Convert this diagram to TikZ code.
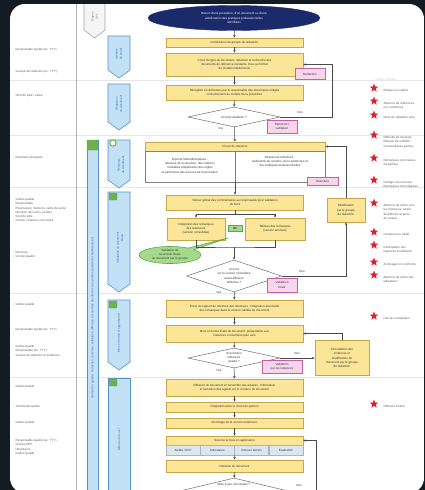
\documentclass[tikz,border=0pt]{standalone}
\usepackage{fontspec}
\setmainfont{Liberation Sans}
\usetikzlibrary{shapes.geometric,shapes.callouts,arrows.meta}
\definecolor{bgdark}{HTML}{131B23}
\definecolor{yfill}{HTML}{FBE596}
\definecolor{ydraw}{HTML}{C9A54A}
\definecolor{pfill}{HTML}{F7D6EC}
\definecolor{pdraw}{HTML}{C25FA5}
\definecolor{bfill}{HTML}{C2E1F7}
\definecolor{bdraw}{HTML}{5B8FC9}
\definecolor{btext}{HTML}{3A6FB5}
\definecolor{gfill}{HTML}{A6D98C}
\definecolor{gdraw}{HTML}{5FA845}
\definecolor{gicon}{HTML}{6DB24E}
\definecolor{navy}{HTML}{1B2A6B}
\definecolor{linec}{HTML}{4A4A4A}
\definecolor{sepc}{HTML}{E4E6E8}
\definecolor{txt}{HTML}{333333}
\definecolor{redstar}{HTML}{E0202A}
\definecolor{subfill}{HTML}{DCE6EE}
\definecolor{grayline}{HTML}{B0B4B8}
\tikzset{
  tinyf/.style={font=\fontsize{3}{4.2}\selectfont},
  ybox/.style={draw=ydraw, fill=yfill, line width=0.8pt, inner sep=0pt, align=center, tinyf, text=txt},
  pbox/.style={draw=pdraw, fill=pfill, line width=0.6pt, inner sep=0pt, align=center, tinyf, text=txt},
  sbox/.style={draw=grayline, fill=subfill, line width=0.5pt, inner sep=0pt, align=center, tinyf, text=txt},
  dec/.style={diamond, draw=linec!80, fill=white, line width=0.5pt, inner sep=0pt, align=center, tinyf, text=txt},
  flow/.style={draw=linec, line width=0.5pt, -{Stealth[length=2.6pt,width=2.4pt]}},
  plainline/.style={draw=linec, line width=0.5pt},
  chev/.style={draw=bdraw, fill=bfill, line width=0.6pt},
  chevtxt/.style={tinyf, text=btext, rotate=90, align=center},
  sidetxt/.style={tinyf, text=txt!80, anchor=west, align=left},
  startxt/.style={tinyf, text=txt!80, anchor=north west, align=left},
  starmark/.style={star, star points=5, star point ratio=2.4, fill=redstar, draw=none, minimum size=9pt, inner sep=0pt},
  icon/.style={fill=gicon, draw=gdraw, rounded corners=1pt, line width=0.4pt},
  lbl/.style={tinyf, text=txt}
}
\begin{document}
\begin{tikzpicture}[x=1pt,y=-1pt]
\fill[bgdark] (0,0) rectangle (425,490);
\useasboundingbox (0,0) rectangle (425,490);
\begin{scope}
\clip[rounded corners=15pt] (10,4) rectangle (424,493);
\fill[white] (10,4) rectangle (424,493);

% separators
\foreach \yy in {80,135,187,293,377} \draw[sepc, line width=0.6pt] (10,\yy) -- (424,\yy);
\draw[grayline, line width=0.6pt] (76,4) -- (76,493);

% left column texts
\node[sidetxt] (t1) at (12,50) {Responsable qualité (ex. YYY)};
\node[sidetxt] (t2) at (12,72) {Groupe de rédaction (ex. YYY)};
\node[sidetxt] (t3) at (12,96) {Chef de pôle / cadre};
\node[sidetxt] (t4) at (12,158) {Relecteurs désignés};
\node[sidetxt, anchor=north west] (t5) at (12,195) {Cellule qualité\\Responsable\\Pharmacien, médecin, cadre de santé\\Direction des soins, juristes\\Chef de pôle\\Comité / instance concernée};
\node[sidetxt, anchor=north west] (t6) at (12,248) {Directeur\\Comité qualité};
\node[sidetxt] (t7) at (12,305) {Cellule qualité};
\node[sidetxt] (t8) at (12,330) {Responsable qualité (ex. YYY)};
\node[sidetxt, anchor=north west] (t9) at (12,342) {Cellule qualité\\Responsable (ex. YYY)\\Groupe de rédaction et instances};
\node[sidetxt] (t10) at (12,387) {Cellule qualité};
\node[sidetxt] (t11) at (12,407) {Secrétariat qualité};
\node[sidetxt] (t12) at (12,423) {Cellule qualité};
\node[sidetxt, anchor=north west] (t13) at (12,436) {Responsable qualité (ex. YYY)\\Groupe EPP\\Utilisateurs\\Cellule qualité};

% top grey chevron
\draw[fill=gray!8, draw=gray!70, line width=0.6pt] (84,2) -- (105,2) -- (105,30) -- (94.5,38) -- (84,30) -- cycle;
\node[chevtxt, text=gray] (g0) at (94.5,17) {Étapes\\clés};

% blue chevrons
\draw[chev] (108,36) -- (130,36) -- (130,70) -- (119,78) -- (108,70) -- cycle;
\node[chevtxt] (c1) at (119,54) {Initiation\\du projet};
\draw[chev] (108,84) -- (130,84) -- (130,122) -- (119,130) -- (108,122) -- cycle;
\node[chevtxt] (c2) at (119,104) {Rédaction\\du document};
\draw[chev] (108,140) -- (130,140) -- (130,180) -- (119,188) -- (108,180) -- cycle;
\node[chevtxt] (c3) at (121,165) {Relecture\\du document};
\draw[chev] (108,192) -- (130,192) -- (130,284) -- (119,292) -- (108,284) -- cycle;
\node[chevtxt] (c4) at (120,248) {Validation du document\\\hspace{20pt}finale};
\draw[chev] (108,300) -- (130,300) -- (130,362) -- (119,370) -- (108,362) -- cycle;
\node[chevtxt] (c5) at (119,333) {Mise en forme et approbation};
\draw[chev] (108,378) rectangle (130,500);
\node[chevtxt] (c6) at (119,440) {Diffusion et suivi};
% long bar
\draw[chev] (87,140) rectangle (98,500);
\node[chevtxt] (c7) at (92.5,318) {Démarche qualité : rédaction, relecture, validation, diffusion et suivi des documents du système qualité de l'établissement};
% icons
\draw[icon] (87,140) rectangle (98,150);
\draw[fill=white, draw=gicon, line width=1pt] (113,143) circle (3.2pt);
\draw[icon] (109,193) rectangle (117,200);
\draw[icon] (109,301) rectangle (117,308);
\draw[icon] (109,379) rectangle (117,386);

% ---- main flow ----
\node[ellipse, fill=navy, draw=navy, minimum width=172pt, minimum height=25pt, inner sep=0pt, align=center, tinyf, text=white] (e0) at (234,18) {Besoin d'une procédure, d'un document ou d'une\\amélioration des pratiques professionnelles\\identifiées};
\node[ybox, minimum width=137pt, minimum height=9pt] (b1) at (234.5,42.5) {Constitution du groupe de rédaction};
\node[ybox, minimum width=137pt, minimum height=23pt] (b2) at (234.5,64.5) {Choix du type de document, rédaction et recherche des\\documents de référence existants, mise au format\\du modèle institutionnel};
\node[pbox, minimum width=30pt, minimum height=11pt] (p1) at (310,74) {Rédaction};
\node[ybox, minimum width=137pt, minimum height=15pt] (b3) at (234.5,92.5) {Réception et vérification par le responsable des documents rédigés\\conformément au modèle de la procédure};
\node[dec, aspect=4.6, minimum width=92pt, minimum height=20pt] (d1) at (234,117) {Accord validation ?};
\node[pbox, minimum width=30pt, minimum height=13pt] (p2) at (282,126.5) {Relecture /\\validation};
\node[lbl] (n1) at (300,112.5) {Non};
\node[lbl] (o1) at (221,128) {Oui};

% relecture block
\node[ybox, minimum width=180pt, minimum height=9pt] (s3h) at (235,146.5) {Circuit de relecture};
\node[draw=linec!70, fill=white, line width=0.6pt, minimum width=180pt, minimum height=31pt, inner sep=0pt] (s3b) at (235,166.5) {};
\draw[linec!70, line width=0.5pt] (s3b.north) -- (s3b.south);
\node[tinyf, text=txt, align=center] (s3l) at (190,166) {Experts méthodologiques :\\relecture de la structure, des critères /\\modalités d'application des règles\\et pertinence des sources de la procédure};
\node[tinyf, text=txt, align=center] (s3r) at (280,162) {Relecteurs extérieurs :\\vérification du contenu, de la pertinence et\\des pratiques professionnelles};
\node[pbox, minimum width=31pt, minimum height=8pt] (s3p) at (322.5,181) {Relecture};
\node[ybox, minimum width=38pt, minimum height=24pt] (mod) at (346,210) {Modification\\par le groupe\\de rédaction};

\node[ybox, minimum width=137pt, minimum height=15pt] (b4) at (235,202.5) {Retour global des commentaires au responsable pour validation\\du fond};
\node[ybox, minimum width=58pt, minimum height=22pt] (b5l) at (196,229) {Intégration des remarques\\des relecteurs\\(version consolidée)};
\node[ybox, minimum width=60pt, minimum height=22pt] (b5r) at (275,229) {Tableau des remarques\\(version annotée)};
\node[fill=gfill, draw=gdraw, line width=0.4pt, minimum width=14pt, minimum height=6pt, inner sep=0pt, tinyf] (gk) at (235,228) {Ok};
\node[ellipse callout, callout absolute pointer={(228,238)}, fill=gfill, draw=gdraw, line width=0.6pt, minimum width=62pt, minimum height=17pt, inner sep=0pt, align=center, tinyf, text=txt] (gc) at (170,255) {Validation de\\la version finale\\du document par le groupe};

\node[dec, aspect=3, minimum width=95pt, minimum height=32pt] (d2) at (234,276) {Accord\\sur la version consolidée\\avant diffusion\\définitive ?};
\node[pbox, minimum width=30pt, minimum height=14pt] (p4) at (282,285) {Validation\\finale};
\node[lbl] (n2) at (302,271.5) {Non};
\node[lbl] (o2) at (219,292) {Oui};

\node[ybox, minimum width=137pt, minimum height=17pt] (b6) at (234.5,308.5) {Envoi du rapport de relecture aux relecteurs ; intégration éventuelle\\des remarques dans la version validée du document};
\node[ybox, minimum width=137pt, minimum height=17pt] (b7) at (234.5,333.5) {Mise en forme finale du document, présentation aux\\instances concernées pour avis};
\node[dec, aspect=4, minimum width=92pt, minimum height=20pt] (d3) at (234,358) {Accord des\\instances\\qualité ?};
\node[pbox, minimum width=40pt, minimum height=13pt] (p3) at (282,366.5) {Validation\\par les instances};
\node[lbl] (n3) at (297,353.5) {Non};
\node[lbl] (o3) at (219,370) {Oui};
\node[ybox, minimum width=54pt, minimum height=35pt] (r3) at (342,358) {Consultation des\\instances et\\modification du\\document par le groupe\\de rédaction};

\node[ybox, minimum width=137pt, minimum height=17pt] (b8) at (234.5,387.5) {Diffusion du document à l'ensemble des équipes ; information\\et formation des agents sur le contenu du document};
\node[ybox, minimum width=137pt, minimum height=10pt] (b9) at (234.5,407) {Intégration dans le circuit de gestion};
\node[ybox, minimum width=137pt, minimum height=10pt] (b10) at (234.5,423) {Archivage de la version antérieure};
\node[ybox, minimum width=137pt, minimum height=9pt] (b11) at (234.5,440.5) {Suivi de la mise en application};
\node[sbox, minimum width=34.25pt, minimum height=10pt] (s1) at (183.1,450) {Audits / EPP};
\node[sbox, minimum width=34.25pt, minimum height=10pt] (s2) at (217.4,450) {Indicateurs};
\node[sbox, minimum width=34.25pt, minimum height=10pt] (s3) at (251.6,450) {Retours terrain};
\node[sbox, minimum width=34.25pt, minimum height=10pt] (s4) at (285.9,450) {Évaluation};
\node[ybox, minimum width=137pt, minimum height=12pt] (b12) at (234.5,466) {Révision du document};
\node[dec, aspect=4, minimum width=100pt, minimum height=24pt] (d4) at (234,490) {};
\node[lbl, align=center] (d4t) at (234,484.5) {Mise à jour nécessaire ?};
\node[lbl] (n4) at (299,485) {Non};

% connectors
\draw[flow] (e0) -- (b1);
\draw[flow] (b1) -- (b2);
\draw[flow] (b2) -- (b3);
\draw[flow] (b3) -- (d1);
\draw[flow] (d1) -- (s3h);
\draw[flow] (d1.east) -- ++(52,0) |- (b2.east);
\draw[flow] (s3b) -- (b4);
\draw[plainline] (b4.south) -- ++(0,4) coordinate (sp);
\draw[flow] (sp) -| (b5l.north);
\draw[flow] (sp) -| (b5r.north);
\coordinate (mg) at (234,247);
\draw[plainline] (b5l.south) |- (mg) -| (b5r.south);
\draw[flow] (mg) -- (d2.north);
\draw[flow] (d2.east) -| (mod.south);
\draw[flow] (mod.north) |- (s3h.east);
\draw[flow] (d2) -- (b6);
\draw[flow] (b6) -- (b7);
\draw[flow] (b7) -- (d3);
\draw[flow] (d3.east) -- (r3.west);
\draw[flow] (r3.north) |- (b7.east);
\draw[flow] (d3) -- (b8);
\draw[flow] (b8) -- (b9);
\draw[flow] (b9) -- (b10);
\draw[flow] (b10) -- (b11);
\draw[flow] (s2.south east) -- (b12.north);
\draw[flow] (b12) -- (d4);
\draw[flow] (d4.east) -- ++(32,0) |- (b11.east);

% star column
\node[tinyf, text=gray!40, anchor=west] (sh) at (372,80) {Points critiques};
\foreach \yy/\tt in {
  88/{Risque non repéré},
  101/{Absence de références\\non conformes},
  115/{Délai de validation long},
  135/{Difficulté de relecture\\Manque de visibilité\\Commentaires perdus},
  158/{Remarques non tracées\\d'expertise},
  180/{Partage non sécurisé\\Remarques non intégrées},
  203/{Absence de retour vers\\les relecteurs, retard\\de diffusion et perte\\de version},
  232/{Contenu non validé},
  245/{Participation des\\instances insuffisante},
  262/{Archivage non conforme},
  275/{Absence de retour des\\utilisateurs},
  316/{Pas de consultation},
  404/{Diffusion limitée}}
{
  \node[starmark] at (374,\yy) {};
  \node[startxt] at (380,\yy-2) {\tt};
}
\end{scope}
\end{tikzpicture}
\end{document}
